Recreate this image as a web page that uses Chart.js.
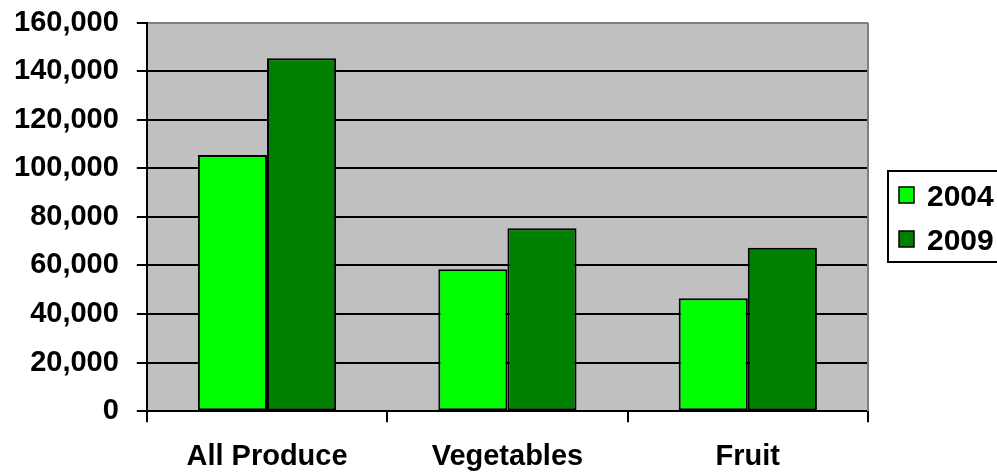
<!DOCTYPE html>
<html>
<head>
<meta charset="utf-8">
<script src="https://cdn.jsdelivr.net/npm/chart.js@4"></script>
<style>
  html, body { margin: 0; padding: 0; background: #ffffff; overflow: hidden; }
  canvas { display: block; }
</style>
</head>
<body>
<canvas id="chart" width="997" height="475"></canvas>
<script>
// Produce volumes by category
const categories = ["All Produce", "Vegetables", "Fruit"];
const seriesNames = ["2004", "2009"];
const values2004 = [105500, 58500, 46500];
const values2009 = [145300, 75300, 67300];
const seriesColors = ["#00ff00", "#008000"];

const FONT = "'Liberation Sans', Arial, sans-serif";

// grey plot background plus the grey right frame
const plotFrame = {
  id: "plotFrame",
  beforeDraw(chart) {
    const { ctx, chartArea: a } = chart;
    ctx.save();
    ctx.fillStyle = "#c0c0c0";
    ctx.fillRect(a.left, a.top, a.right - a.left, a.bottom - a.top);
    ctx.restore();
  },
  afterDatasetsDraw(chart) {
    const { ctx, chartArea: a } = chart;
    ctx.save();
    ctx.strokeStyle = "#808080";
    ctx.lineWidth = 2;
    ctx.beginPath();
    ctx.moveTo(a.right, a.top);
    ctx.lineTo(a.right, a.bottom);
    ctx.stroke();
    ctx.restore();
  }
};

// boxed legend to the right of the plot
const boxLegend = {
  id: "boxLegend",
  afterDraw(chart) {
    const { ctx } = chart;
    const x = 888, y = 171, w = 130, h = 91;
    ctx.save();
    ctx.fillStyle = "#ffffff";
    ctx.fillRect(x, y, w, h);
    ctx.strokeStyle = "#000000";
    ctx.lineWidth = 2;
    ctx.strokeRect(x, y, w, h);
    ctx.font = "bold 30px " + FONT;
    ctx.textBaseline = "alphabetic";
    chart.data.datasets.forEach((ds, i) => {
      const rowTop = y + 16 + i * 44;
      ctx.fillStyle = ds.backgroundColor;
      ctx.fillRect(899, rowTop, 15, 16);
      ctx.lineWidth = 1.5;
      ctx.strokeRect(899, rowTop, 15, 16);
      ctx.fillStyle = "#000000";
      ctx.fillText(ds.label, 927, rowTop + 19);
    });
    ctx.restore();
  }
};

new Chart(document.getElementById("chart").getContext("2d"), {
  type: "bar",
  data: {
    labels: categories,
    datasets: [
      {
        label: seriesNames[0],
        data: values2004,
        backgroundColor: seriesColors[0],
        borderColor: "#000000",
        borderWidth: 2,
        borderSkipped: false
      },
      {
        label: seriesNames[1],
        data: values2009,
        backgroundColor: seriesColors[1],
        borderColor: "#000000",
        borderWidth: 2,
        borderSkipped: false
      }
    ]
  },
  options: {
    responsive: false,
    devicePixelRatio: 1,
    animation: false,
    categoryPercentage: 0.575,
    barPercentage: 1.0,
    layout: { padding: { left: -4, right: 129, top: 0, bottom: -16 } },
    plugins: {
      legend: { display: false },
      tooltip: { enabled: false }
    },
    scales: {
      x: {
        grid: {
          offset: true,
          drawOnChartArea: false,
          color: "#000000",
          lineWidth: 2,
          tickLength: 11
        },
        border: { color: "#000000", width: 2 },
        ticks: {
          color: "#000000",
          padding: 17,
          font: { family: FONT, size: 29, weight: "bold" }
        }
      },
      y: {
        min: 0,
        max: 160000,
        grid: {
          color: ctx => ctx.tick && ctx.tick.value === 160000 ? "#808080" : "#000000",
          tickColor: "#000000",
          lineWidth: 2,
          tickLength: 10
        },
        border: { color: "#000000", width: 2 },
        ticks: {
          stepSize: 20000,
          color: "#000000",
          padding: 18,
          font: { family: FONT, size: 29, weight: "bold", lineHeight: 0.32 },
          callback: v => v.toLocaleString("en-US")
        }
      }
    }
  },
  plugins: [plotFrame, boxLegend]
});
</script>
</body>
</html>
